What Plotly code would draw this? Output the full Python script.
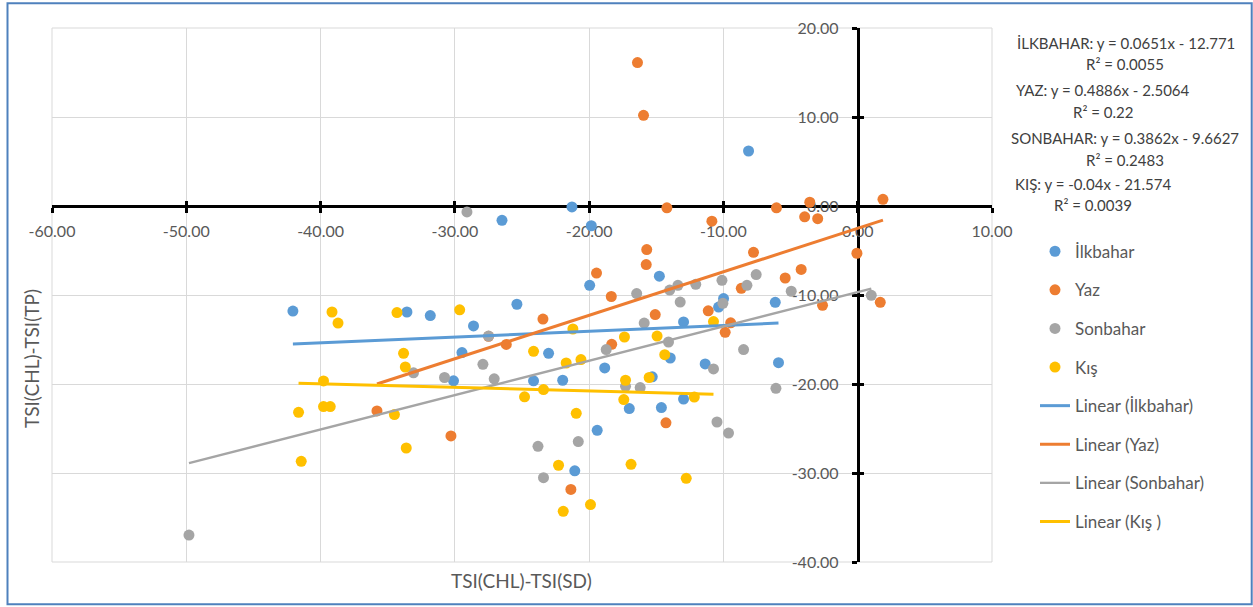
import plotly.graph_objects as go

# ---------------- data ----------------
ilk_x = [-42.06, -33.57, -31.83, -29.47, -30.10, -28.61, -26.49, -25.38, -24.14, -23.02,
         -21.97, -21.28, -19.84, -19.96, -19.40, -21.07, -18.84, -17.01, -15.30, -14.77,
         -14.62, -13.96, -12.97, -12.97, -11.36, -10.36, -9.99, -8.13, -6.14, -5.90]
ilk_y = [-11.80, -11.91, -12.31, -16.47, -19.64, -13.48, -1.61, -11.04, -19.64, -16.55,
         -19.58, -0.11, -2.22, -8.91, -25.20, -29.75, -18.20, -22.76, -19.19, -7.88,
         -22.65, -17.08, -13.03, -21.69, -17.75, -11.35, -10.40, 6.18, -10.82, -17.60]

yaz_x = [-35.80, -30.29, -27.49, -26.17, -23.44, -21.36, -19.45, -18.35, -18.32, -16.40,
         -15.95, -15.71, -15.75, -15.08, -14.28, -14.21, -11.13, -10.86, -9.87, -9.46,
         -8.67, -7.76, -6.05, -5.40, -4.21, -3.95, -3.57, -2.98, -2.62, -0.06, 1.88, 1.68]
yaz_y = [-23.03, -25.84, -14.64, -15.56, -12.70, -31.85, -7.53, -10.17, -15.54, 16.11,
         10.19, -4.90, -6.58, -12.20, -24.36, -0.20, -11.78, -1.70, -14.19, -13.12,
         -9.25, -5.20, -0.20, -8.09, -7.13, -1.21, 0.42, -1.42, -11.16, -5.31, 0.75, -10.82]

son_x = [-49.80, -33.08, -30.77, -29.10, -27.91, -27.49, -27.07, -23.81, -23.40, -20.81,
         -18.73, -17.29, -16.46, -16.20, -15.90, -14.09, -14.00, -13.39, -13.22, -12.06,
         -10.74, -10.48, -10.11, -10.04, -9.62, -8.50, -8.25, -7.56, -6.09, -4.95, 1.01]
son_y = [-36.97, -18.74, -19.27, -0.67, -17.79, -14.61, -19.42, -27.00, -30.52, -26.47,
         -16.13, -20.26, -9.84, -20.40, -13.15, -15.28, -9.44, -8.91, -10.79, -8.80,
         -18.31, -24.27, -8.35, -10.93, -25.51, -16.13, -8.91, -7.71, -20.48, -9.58, -10.03]

kis_x = [-41.64, -41.44, -39.78, -39.78, -39.28, -39.15, -38.70, -34.50, -34.31, -33.82,
         -33.69, -33.62, -29.64, -24.81, -24.14, -23.40, -22.28, -21.93, -21.71, -21.21,
         -20.96, -20.61, -19.90, -17.42, -17.37, -17.29, -16.88, -15.53, -14.94, -14.37,
         -12.77, -12.17, -10.74]
kis_y = [-23.18, -28.69, -19.66, -22.54, -22.54, -11.91, -13.16, -23.44, -11.97, -16.55,
         -18.09, -27.19, -11.66, -21.44, -16.33, -20.63, -29.13, -34.30, -17.64, -13.82,
         -23.29, -17.25, -33.55, -21.75, -14.72, -19.58, -29.02, -19.27, -14.62, -16.70,
         -30.60, -21.46, -12.98]

series_names = ["İlkbahar", "Yaz", "Sonbahar", "Kış"]
trend_names = ["Linear (İlkbahar)", "Linear (Yaz)", "Linear (Sonbahar)", "Linear (Kış )"]
trend_slope = [0.0651, 0.4886, 0.3862, -0.04]
trend_intercept = [-12.771, -2.5064, -9.6627, -21.574]
equation_labels = ["İLKBAHAR: y = 0.0651x - 12.771", "R² = 0.0055",
                   "YAZ: y = 0.4886x - 2.5064", "R² = 0.22",
                   "SONBAHAR: y = 0.3862x - 9.6627", "R² = 0.2483",
                   "KIŞ: y = -0.04x - 21.574", "R² = 0.0039"]

x_ticks = [-60, -50, -40, -30, -20, -10, 0, 10]
y_ticks = [-40, -30, -20, -10, 0, 10, 20]
x_range = [-60, 10]
y_range = [-40, 20]
x_title = "TSI(CHL)-TSI(SD)"
y_title = "TSI(CHL)-TSI(TP)"

# ---------------- styling ----------------
W, H = 1253, 607
ML, MR, MT, MB = 52, 261, 28, 45
PW, PH = W - ML - MR, H - MT - MB
FONT = "Lato, 'Liberation Sans', Arial, sans-serif"
colors = ["#5B9BD5", "#ED7D31", "#A5A5A5", "#FFC000"]
trend_widths = [3, 3, 2.3, 3]
GRID = "#d9d9d9"


def px2paper(px, py):
    return (px - ML) / PW, (H - MB - py) / PH


xs = [ilk_x, yaz_x, son_x, kis_x]
ys = [ilk_y, yaz_y, son_y, kis_y]

fig = go.Figure()
for i in range(4):
    fig.add_trace(go.Scatter(
        x=xs[i], y=ys[i], mode="markers", name=series_names[i],
        legendgroup=f"g{i}",
        marker=dict(color=colors[i], size=11, line=dict(width=0)),
    ))
for i in range(4):
    x0, x1 = min(xs[i]), max(xs[i])
    fig.add_trace(go.Scatter(
        x=[x0, x1],
        y=[trend_slope[i] * x0 + trend_intercept[i], trend_slope[i] * x1 + trend_intercept[i]],
        mode="lines", name=trend_names[i], legendgroup=f"t{i}",
        line=dict(color=colors[i], width=trend_widths[i]),
    ))

xpos = (0 - y_range[0]) / (y_range[1] - y_range[0])
ypos = (0 - x_range[0]) / (x_range[1] - x_range[0])
tickfont = dict(family=FONT, size=16, color="#595959")

common_x = dict(range=x_range, tickvals=x_ticks, ticktext=[f"{v:.2f}" for v in x_ticks],
                zeroline=False, anchor="free", position=xpos)
common_y = dict(range=y_range, tickvals=y_ticks, ticktext=[f"{v:.2f}" for v in y_ticks],
                zeroline=False, anchor="free", position=ypos)

fig.update_layout(
    width=W, height=H,
    margin=dict(l=ML, r=MR, t=MT, b=MB, autoexpand=False),
    paper_bgcolor="white", plot_bgcolor="white",
    font=dict(family=FONT, color="#595959"),
    xaxis=dict(**common_x, showgrid=True, gridcolor=GRID, gridwidth=1,
               showline=True, linecolor="black", linewidth=3,
               ticks="outside", ticklen=5, tickwidth=2.5, tickcolor="black",
               tickfont=tickfont, ticklabelstandoff=5, layer="below traces"),
    yaxis=dict(**common_y, showgrid=True, gridcolor=GRID, gridwidth=1,
               showline=True, linecolor="black", linewidth=3,
               ticks="outside", ticklen=5, tickwidth=2.5, tickcolor="black",
               tickfont=tickfont, ticklabelstandoff=10, layer="below traces"),
    xaxis2=dict(**common_x, overlaying="x", showgrid=False, showline=False,
                ticks="inside", ticklen=5, tickwidth=2.5, tickcolor="black",
                showticklabels=False, layer="below traces"),
    yaxis2=dict(**common_y, overlaying="y", showgrid=False, showline=False,
                ticks="inside", ticklen=5, tickwidth=2.5, tickcolor="black",
                showticklabels=False, layer="below traces"),
    legend=dict(x=px2paper(1035, 0)[0], xanchor="left",
                y=px2paper(0, 233.7)[1], yanchor="top",
                font=dict(family=FONT, size=17, color="#595959"),
                tracegroupgap=13.5, bgcolor="rgba(0,0,0,0)", borderwidth=0),
    showlegend=True,
)

# dummy trace so the overlay (cross-tick) axes are drawn
fig.add_trace(go.Scatter(x=[None], y=[None], xaxis="x2", yaxis="y2",
                         showlegend=False, hoverinfo="skip"))

# plot-area frame in gridline colour (gridlines at the range ends)
fig.add_shape(type="rect", xref="paper", yref="paper", x0=0, y0=0, x1=1, y1=1,
              line=dict(color=GRID, width=1), fillcolor="rgba(0,0,0,0)", layer="below")

# equation labels
eq_pos = [(1126, 42.7), (1125, 64), (1103, 90), (1103, 111.7),
          (1125, 137.7), (1124.5, 160), (1093, 184), (1092.5, 205)]
for txt, (px, py) in zip(equation_labels, eq_pos):
    ax, ay = px2paper(px, py)
    fig.add_annotation(x=ax, y=ay, xref="paper", yref="paper", text=txt,
                       showarrow=False, xanchor="center", yanchor="middle",
                       font=dict(family=FONT, size=15, color="#404040"))

# axis titles
tx, ty = px2paper(521, 580)
fig.add_annotation(x=tx, y=ty, xref="paper", yref="paper", text=x_title, showarrow=False,
                   xanchor="center", yanchor="middle",
                   font=dict(family=FONT, size=19, color="#595959"))
tx, ty = px2paper(31, 359)
fig.add_annotation(x=tx, y=ty, xref="paper", yref="paper", text=y_title, showarrow=False,
                   xanchor="center", yanchor="middle", textangle=-90,
                   font=dict(family=FONT, size=19, color="#595959"))

# outer border
bx0, by0 = px2paper(7.5, 604.3)
bx1, by1 = px2paper(1251.7, 3.3)
fig.add_shape(type="rect", xref="paper", yref="paper", x0=bx0, y0=by0, x1=bx1, y1=by1,
              line=dict(color="#4F81BD", width=2), fillcolor="rgba(0,0,0,0)", layer="above")

fig.write_html("out.html", config={"displayModeBar": False},
               post_script="document.body.style.margin='0';")
